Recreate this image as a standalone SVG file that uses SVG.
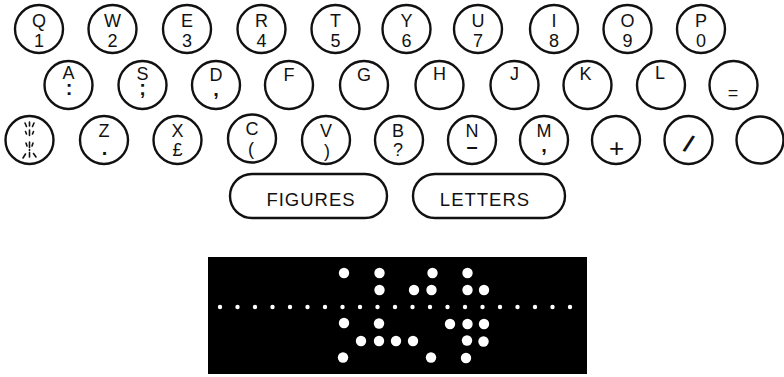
<svg xmlns="http://www.w3.org/2000/svg" width="784" height="377" viewBox="0 0 784 377">
<style>
.k{fill:#fff;stroke:#111;stroke-width:2.4}
.t{font-family:"Liberation Sans",Arial,sans-serif;font-size:18px;fill:#111;text-anchor:middle}
.p{font-family:"Liberation Sans",Arial,sans-serif;font-size:20px;font-weight:bold;fill:#111;text-anchor:middle}
.b{font-family:"Liberation Sans",Arial,sans-serif;font-size:18.5px;fill:#111;text-anchor:middle;letter-spacing:1px}
.m{stroke:#111;stroke-width:1.6;fill:none;stroke-linecap:round}
.h{fill:#fff}
</style>
<rect width="784" height="377" fill="#fff"/>
<g id="keys-row1">
<g id="key-Q"><circle class="k" cx="39" cy="29" r="24"/><text class="t" x="39" y="27">Q</text><text class="t" x="39" y="46.5">1</text></g>
<g id="key-W"><circle class="k" cx="112.5" cy="29" r="24"/><text class="t" x="112.5" y="27">W</text><text class="t" x="112.5" y="46.5">2</text></g>
<g id="key-E"><circle class="k" cx="187" cy="29" r="24"/><text class="t" x="187" y="27">E</text><text class="t" x="187" y="46.5">3</text></g>
<g id="key-R"><circle class="k" cx="261.5" cy="29" r="24"/><text class="t" x="261.5" y="27">R</text><text class="t" x="261.5" y="46.5">4</text></g>
<g id="key-T"><circle class="k" cx="335.5" cy="29" r="24"/><text class="t" x="335.5" y="27">T</text><text class="t" x="335.5" y="46.5">5</text></g>
<g id="key-Y"><circle class="k" cx="406.5" cy="29" r="24"/><text class="t" x="406.5" y="27">Y</text><text class="t" x="406.5" y="46.5">6</text></g>
<g id="key-U"><circle class="k" cx="478" cy="29" r="24"/><text class="t" x="478" y="27">U</text><text class="t" x="478" y="46.5">7</text></g>
<g id="key-I"><circle class="k" cx="554" cy="29" r="24"/><text class="t" x="554" y="27">I</text><text class="t" x="554" y="46.5">8</text></g>
<g id="key-O"><circle class="k" cx="627.5" cy="29" r="24"/><text class="t" x="627.5" y="27">O</text><text class="t" x="627.5" y="46.5">9</text></g>
<g id="key-P"><circle class="k" cx="701" cy="29" r="24"/><text class="t" x="701" y="27">P</text><text class="t" x="701" y="46.5">0</text></g>
</g>
<g id="keys-row2">
<g id="key-A"><circle class="k" cx="68.5" cy="85" r="24"/><text class="t" x="68.5" y="79">A</text><text class="p" x="69" y="95">:</text></g>
<g id="key-S"><circle class="k" cx="142.5" cy="85" r="24"/><text class="t" x="142.5" y="80">S</text><text class="p" x="142.5" y="95">;</text></g>
<g id="key-D"><circle class="k" cx="216" cy="85" r="24"/><text class="t" x="216" y="81">D</text><text class="p" x="216" y="96">,</text></g>
<g id="key-F"><circle class="k" cx="289" cy="85" r="24"/><text class="t" x="289" y="81">F</text></g>
<g id="key-G"><circle class="k" cx="364" cy="85" r="24"/><text class="t" x="364" y="81">G</text></g>
<g id="key-H"><circle class="k" cx="439.5" cy="85" r="24"/><text class="t" x="439.5" y="80">H</text></g>
<g id="key-J"><circle class="k" cx="514.5" cy="85" r="24"/><text class="t" x="514.5" y="80">J</text></g>
<g id="key-K"><circle class="k" cx="587.5" cy="85" r="24"/><text class="t" x="585.5" y="80">K</text></g>
<g id="key-L"><circle class="k" cx="661" cy="85" r="24"/><text class="t" x="660" y="79">L</text></g>
<g id="key-eq"><circle class="k" cx="733.5" cy="85" r="24"/><text class="t" x="733" y="98.5">=</text></g>
</g>
<g id="keys-row3">
<g id="key-bell"><circle class="k" cx="29.5" cy="140" r="24"/>
<path class="m" d="M25 123 L26.5 126.5 M29.5 122 L29.5 126 M34 123 L32.5 126.5 M25.5 131.5 L26.5 134 M29.5 130 L29.5 135.5 M33.5 131.5 L32.5 134 M26 143 L27 146 M29.5 142 L29.5 147.5 M33 143 L32 146 M29.5 149.5 L29.5 150.5 M23 158 L25.5 154 M29.5 152.5 L29.5 157 M36 157 L33.5 153.5"/></g>
<g id="key-Z"><circle class="k" cx="104" cy="140" r="24"/><text class="t" x="104" y="137">Z</text><text class="p" x="104.5" y="155">.</text></g>
<g id="key-X"><circle class="k" cx="177.5" cy="140" r="24"/><text class="t" x="177.5" y="137">X</text><text class="t" x="177.5" y="156">£</text></g>
<g id="key-C"><circle class="k" cx="252" cy="138.5" r="24"/><text class="t" x="252" y="135">C</text><text class="t" x="251" y="155">(</text></g>
<g id="key-V"><circle class="k" cx="326" cy="140" r="24"/><text class="t" x="326" y="137">V</text><text class="t" x="327" y="157">)</text></g>
<g id="key-B"><circle class="k" cx="399" cy="140" r="24"/><text class="t" x="398" y="137">B</text><text class="t" x="398" y="156">?</text></g>
<g id="key-N"><circle class="k" cx="472" cy="140" r="24"/><text class="t" x="472" y="137">N</text><text class="p" x="472" y="153">–</text></g>
<g id="key-M"><circle class="k" cx="544" cy="140" r="24"/><text class="t" x="544" y="137">M</text><text class="p" x="544" y="152">,</text></g>
<g id="key-plus"><circle class="k" cx="616" cy="140" r="24"/><text class="t" x="616.5" y="157" style="font-size:26px">+</text></g>
<g id="key-slash"><circle class="k" cx="688.5" cy="140" r="24"/><text class="p" x="688.5" y="152" style="font-size:24px" transform="rotate(22 688.5 144)">/</text></g>
<g id="key-blank"><circle class="k" cx="760" cy="140" r="23.5"/></g>
</g>
<g id="shift-keys">
<g id="key-figures"><rect class="k" x="230" y="174" width="157" height="44" rx="22"/><text class="b" x="311" y="206">FIGURES</text></g>
<g id="key-letters"><rect class="k" x="413" y="174" width="152" height="44" rx="22"/><text class="b" x="485" y="206">LETTERS</text></g>
</g>
<g id="connectors"/>
<g id="tape">
<rect x="208" y="257" width="379" height="117" fill="#000"/>
<g id="sprockets" class="h">
<circle cx="220" cy="307" r="2.2"/><circle cx="237.5" cy="307" r="2.2"/><circle cx="255" cy="307" r="2.2"/><circle cx="272.5" cy="307" r="2.2"/><circle cx="290" cy="307" r="2.2"/><circle cx="307.5" cy="307" r="2.2"/><circle cx="325" cy="307" r="2.2"/><circle cx="342.5" cy="307" r="2.2"/><circle cx="360" cy="307" r="2.2"/><circle cx="377.5" cy="307" r="2.2"/><circle cx="395" cy="307" r="2.2"/><circle cx="412.5" cy="307" r="2.2"/><circle cx="430" cy="307" r="2.2"/><circle cx="447.5" cy="307" r="2.2"/><circle cx="465" cy="307" r="2.2"/><circle cx="482.5" cy="307" r="2.2"/><circle cx="500" cy="307" r="2.2"/><circle cx="517.5" cy="307" r="2.2"/><circle cx="535" cy="307" r="2.2"/><circle cx="552.5" cy="307" r="2.2"/><circle cx="570" cy="307" r="2.2"/>
</g>
<g id="data-holes" class="h">
<circle cx="344" cy="273" r="5.2"/><circle cx="344" cy="323" r="5.2"/><circle cx="343" cy="357.5" r="5.2"/>
<circle cx="361" cy="341" r="5.2"/>
<circle cx="379.5" cy="273" r="5.2"/><circle cx="379.5" cy="290" r="5.2"/><circle cx="379" cy="323.5" r="5.2"/><circle cx="379" cy="341" r="5.2"/>
<circle cx="396" cy="341" r="5.2"/>
<circle cx="414" cy="290" r="5.2"/><circle cx="413" cy="341" r="5.2"/>
<circle cx="432.5" cy="273" r="5.2"/><circle cx="431.5" cy="290" r="5.2"/><circle cx="431" cy="357.5" r="5.2"/>
<circle cx="450" cy="324" r="5.2"/>
<circle cx="467.5" cy="273" r="5.2"/><circle cx="467.5" cy="290" r="5.2"/><circle cx="467.5" cy="324" r="5.2"/><circle cx="467" cy="340.5" r="5.2"/><circle cx="466" cy="358" r="5.2"/>
<circle cx="484" cy="290" r="5.2"/><circle cx="484" cy="324" r="5.2"/><circle cx="483.5" cy="341.5" r="5.2"/>
</g>
</g>
</svg>
